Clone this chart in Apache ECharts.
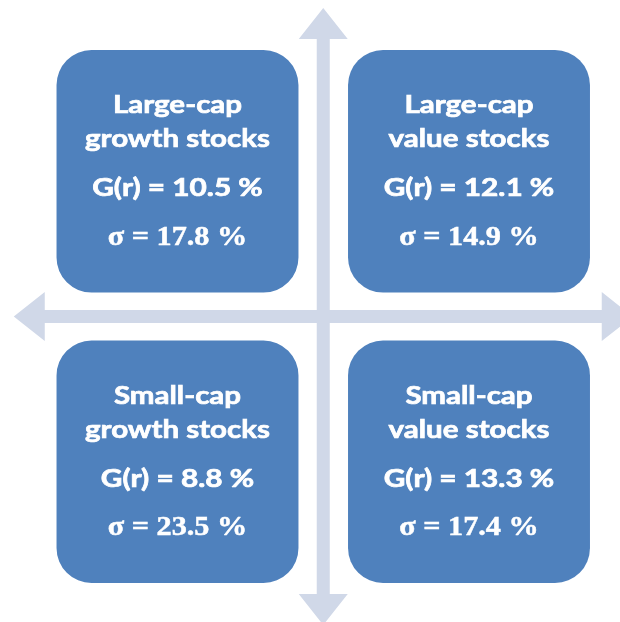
<!DOCTYPE html>
<html>
<head>
<meta charset="utf-8">
<script src="https://cdn.jsdelivr.net/npm/echarts@6/dist/echarts.min.js"></script>
<style>
  html, body { margin: 0; padding: 0; background: #fff; }
  #grafico { width: 620px; height: 622px; }
</style>
</head>
<body>
<div id="grafico"></div>
<script>
// ejes del cuadrante
const tamanos = ['Small-cap', 'Large-cap'];   // eje Y, de abajo hacia arriba
const estilos = ['growth', 'value'];          // eje X, de izquierda a derecha

// una entrada por caja
const cajaTamano = ['Large-cap', 'Large-cap', 'Small-cap', 'Small-cap'];
const cajaEstilo = ['growth', 'value', 'growth', 'value'];
const rentabilidadG = [10.5, 12.1, 8.8, 13.3];
const sigma = [17.8, 14.9, 23.5, 17.4];

const AZUL = '#4F81BD';
const FLECHA = '#D0D8E8';

const datosCajas = cajaTamano.map((t, i) => [
  estilos.indexOf(cajaEstilo[i]),
  tamanos.indexOf(t),
  rentabilidadG[i],
  sigma[i]
]);

const miGrafico = echarts.init(document.getElementById('grafico'));

const texto = (txt, x, y, font, escala, grosor) => ({
  type: 'text',
  x: x,
  y: y,
  scaleX: escala,
  style: {
    text: txt,
    fill: '#fff',
    stroke: '#fff',
    lineWidth: grosor,
    font: font,
    align: 'center',
    verticalAlign: 'middle'
  }
});

const dibujarCaja = (params, api) => {
  const c = api.coord([api.value(0), api.value(1)]);
  const banda = api.size([1, 1]);
  const w = banda[0] * 0.83;
  const h = banda[1] * 0.835;
  const i = params.dataIndex;
  const fuenteSans = 'bold 25px Lato';
  return {
    type: 'group',
    children: [
      {
        type: 'rect',
        shape: { x: c[0] - w / 2, y: c[1] - h / 2, width: w, height: h, r: 35 },
        style: { fill: AZUL }
      },
      texto(cajaTamano[i], c[0], c[1] - 66, fuenteSans, 1.18, 0.7),
      texto(cajaEstilo[i] + ' stocks', c[0], c[1] - 32, fuenteSans, 1.18, 0.7),
      texto('G(r) = ' + api.value(2).toFixed(1) + ' %', c[0], c[1] + 17, 'bold 24px Lato', 1.24, 0.7),
      texto('σ = ' + api.value(3).toFixed(1) + ' %', c[0], c[1] + 66, 'bold 28px "Liberation Serif"', 1.08, 0.5)
    ]
  };
};

const dibujarCruz = (params, api) => {
  const cs = params.coordSys;
  const cx = cs.x + cs.width / 2;
  const cy = cs.y + cs.height / 2;
  const extra = 18, cuerpo = 6.5, ala = 24.5, punta = 31;
  const L = cs.x - extra, R = cs.x + cs.width + extra;
  const T = cs.y - extra, B = cs.y + cs.height + extra;
  const horizontal = [
    [L, cy], [L + punta, cy - ala], [L + punta, cy - cuerpo],
    [R - punta, cy - cuerpo], [R - punta, cy - ala], [R, cy],
    [R - punta, cy + ala], [R - punta, cy + cuerpo],
    [L + punta, cy + cuerpo], [L + punta, cy + ala]
  ];
  const vertical = [
    [cx, T], [cx + ala, T + punta], [cx + cuerpo, T + punta],
    [cx + cuerpo, B - punta], [cx + ala, B - punta], [cx, B],
    [cx - ala, B - punta], [cx - cuerpo, B - punta],
    [cx - cuerpo, T + punta], [cx - ala, T + punta]
  ];
  return {
    type: 'group',
    children: [
      { type: 'polygon', shape: { points: horizontal }, style: { fill: FLECHA } },
      { type: 'polygon', shape: { points: vertical }, style: { fill: FLECHA } }
    ]
  };
};

const opciones = {
  animation: false,
  grid: { left: 31.75, right: 5.25, top: 26.1, bottom: 15 },
  xAxis: {
    type: 'category',
    data: estilos,
    show: false
  },
  yAxis: {
    type: 'category',
    data: tamanos,
    show: false
  },
  series: [
    {
      type: 'custom',
      name: 'ejes',
      clip: false,
      silent: true,
      data: [[0, 0]],
      renderItem: dibujarCruz,
      z: 1
    },
    {
      type: 'custom',
      name: 'cajas',
      clip: false,
      data: datosCajas,
      encode: { x: 0, y: 1 },
      renderItem: dibujarCaja,
      z: 2
    }
  ]
};

miGrafico.setOption(opciones);
</script>
</body>
</html>
